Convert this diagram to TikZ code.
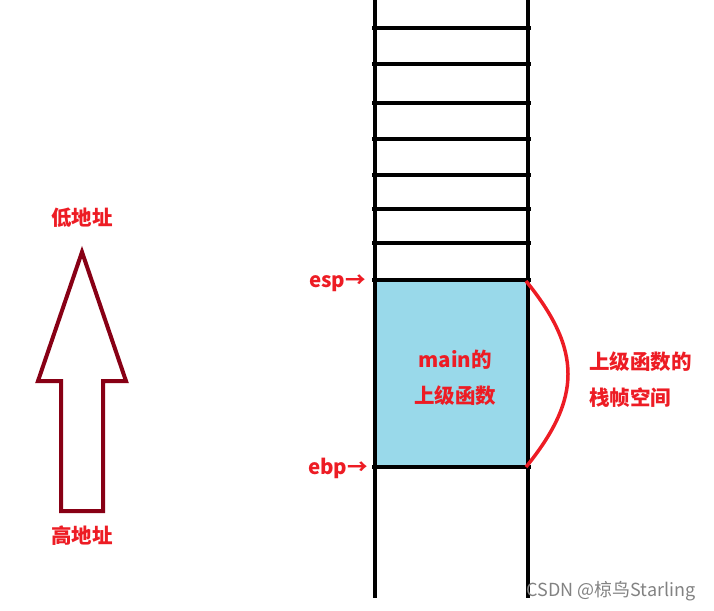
\documentclass[tikz,border=0pt]{standalone}
\usepackage{fontspec}
\setmainfont{Noto Sans CJK SC}
\usetikzlibrary{positioning}
\definecolor{labelred}{RGB}{237,28,36}
\definecolor{arrowred}{RGB}{136,0,21}
\definecolor{framefill}{RGB}{153,217,234}
\definecolor{markgray}{RGB}{130,130,130}
\tikzset{
    rail/.style={draw=black, line width=4.5pt},
    lbl/.style={text=labelred, font=\fontsize{20.5}{26}\selectfont\bfseries, inner sep=0pt, align=left},
}

\begin{document}
\begin{tikzpicture}[x=1pt,y=-1pt]
    \useasboundingbox (0,0) rectangle (714,610);

    % the frame of the caller
    \fill[framefill] (375,280) rectangle (528,467);

    % stack rails and slots
    \draw[rail] (375,0) -- (375,598);
    \draw[rail] (528,0) -- (528,598);
    \foreach \y in {28,64,103,139,175,209,243,280,467}
        \draw[rail] (372,\y) -- (531,\y);

    % corners of the frame
    \coordinate (top) at (526,281);
    \coordinate (bot) at (526,467);

    % labels, use the tuple for location
    \begin{scope}[every node/.style={lbl}]
    \node[anchor=east] (esp) at (366,283) {esp→};
    \node[anchor=east] (ebp) at (368,468) {ebp→};
    \node (main) at (455,360) {main的};
    \node (caller) at (455,396) {上级函数};
    \node[anchor=west] (frame) at (589,362) {上级函数的};
    \node[anchor=west] (space) at (589,398) {栈帧空间};
    \node (low) at (82,218) {低地址};
    \node (high) at (82,536) {高地址};
    \end{scope}

    % brace round the frame
    \draw[labelred, line width=3.5pt] (top) .. controls (582,350) and (582,398) .. (bot);

    % big arrow, high to low
    \draw[arrowred, line width=4pt, line join=miter]
        (82,252) -- (126,381) -- (103,381) -- (103,511) -- (61,511) -- (61,381) -- (38,381) -- cycle;

    \node[text=markgray, font=\fontsize{18}{22}\selectfont, anchor=east] (mark) at (699,591) {CSDN @椋鸟Starling};

\end{tikzpicture}
\end{document}
